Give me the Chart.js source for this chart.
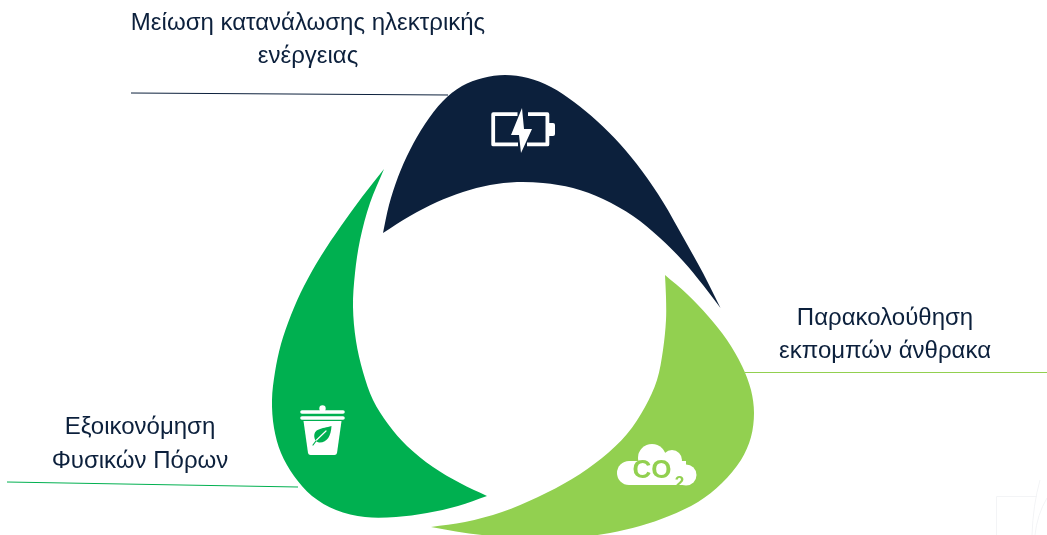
<!DOCTYPE html>
<html lang="el">
<head>
<meta charset="utf-8">
<style>html,body{margin:0;padding:0;background:#fff;overflow:hidden}canvas{display:block}</style>
<script src="https://cdn.jsdelivr.net/npm/chart.js@4/dist/chart.umd.min.js"></script>
</head>
<body>
<canvas id="c" width="1047" height="535"></canvas>
<script>
const navyX = [383,383,389,398,410,425,443,462,483,505,528,551,574,597,620,642,663,683,703,720.5,720.5,703,683,660,633,603,573,543,517,490,463,437,410,383,383];
const navyY = [233,233,205,177,150,124,101,86,78,75,78,87,102,121,144,171,202,237,273,308,308,285,261,238,216,199,188,183,182,185,192,202,216,233,233];
const greenX = [384,384,362,341,321,304,291,281,275,272,274,281,294,312,336,365,396,427,458,487,487,460,433,407,388,373,363,356,353,355,360,370,384,384];
const greenY = [169,169,197,226,256,286,315,344,372,400,428,453,476,496,510,517,517,513,506,496,496,483,467,446,424,400,372,341,307,273,240,203,169,169];
const limeX = [665,665,687,708,727,742,751,754,751,741,722,698,669,640,610,580,540,482,456,431,431,465,502,538,572,602,627,645,657,663,666,666,665,665];
const limeY = [275,275,294,316,340,366,390,413,437,460,483,502,516,526,533,537,539,535,531.5,527,527,522,512,497,479,458,434,407,380,350,320,297,275,275];
const leaderNavyX = [131,448];
const leaderNavyY = [93,95];
const leaderGreenX = [7,298];
const leaderGreenY = [482,487];
const leaderLimeX = [745,1047];
const leaderLimeY = [372.5,372.5];
const labelTop = ["Μείωση κατανάλωσης ηλεκτρικής","ενέργειας"];
const labelRight = ["Παρακολούθηση","εκπομπών άνθρακα"];
const labelLeft = ["Εξοικονόμηση","Φυσικών Πόρων"];

const NAVY = "#0c203c", GREEN = "#00b050", LIME = "#92d050";
const pts = (xs, ys) => xs.map((x, i) => ({x, y: ys[i]}));
const shape = (xs, ys, c) => ({data: pts(xs, ys), showLine: true, fill: "shape", backgroundColor: c, borderColor: c, borderWidth: 0, pointRadius: 0, tension: 0.33});
const leader = (xs, ys, c) => ({data: pts(xs, ys), showLine: true, fill: false, borderColor: c, borderWidth: 1, pointRadius: 0, tension: 0});

const decor = {
  id: "decor",
  afterDatasetsDraw(chart) {
    const ctx = chart.ctx, sx = chart.scales.x, sy = chart.scales.y;
    const at = (x, y) => [sx.getPixelForValue(x), sy.getPixelForValue(y)];
    ctx.save();
    // text labels
    ctx.fillStyle = NAVY; ctx.textAlign = "center"; ctx.textBaseline = "alphabetic";
    ctx.font = '24px "Liberation Sans", Arial, sans-serif';
    const put = (lines, x, y0, dy) => lines.forEach((t, i) => ctx.fillText(t, ...at(x, y0 + i * dy)));
    put(labelTop, 308, 30, 33);
    put(labelRight, 885, 325, 33);
    put(labelLeft, 140, 434, 34);

    // battery icon
    ctx.strokeStyle = "#fff"; ctx.fillStyle = "#fff"; ctx.lineWidth = 3.8; ctx.lineJoin = "round"; ctx.lineCap = "butt";
    ctx.beginPath();
    ctx.moveTo(517.5,114.2); ctx.lineTo(493.2,114.2); ctx.lineTo(493.2,144.4); ctx.lineTo(518,144.4);
    ctx.moveTo(528,114.2); ctx.lineTo(547.4,114.2); ctx.lineTo(547.4,144.4); ctx.lineTo(527,144.4);
    ctx.stroke();
    ctx.beginPath();
    ctx.moveTo(549,123); ctx.lineTo(553,123); ctx.quadraticCurveTo(555,123,555,125); ctx.lineTo(555,134); ctx.quadraticCurveTo(555,136,553,136); ctx.lineTo(549,136); ctx.closePath();
    ctx.fill();
    ctx.beginPath();
    ctx.moveTo(522,108); ctx.lineTo(511,135); ctx.lineTo(519,135); ctx.lineTo(521,153); ctx.lineTo(532,129); ctx.lineTo(524,129); ctx.closePath();
    ctx.fill();

    // bin icon
    ctx.lineCap = "round"; ctx.lineWidth = 3.6;
    ctx.beginPath(); ctx.moveTo(302,412); ctx.lineTo(343,412); ctx.moveTo(302,418); ctx.lineTo(343,418); ctx.stroke();
    ctx.beginPath(); ctx.arc(322.5,408.5,3.2,0,Math.PI*2); ctx.fill();
    ctx.beginPath();
    ctx.moveTo(303.5,421); ctx.lineTo(341.5,421); ctx.lineTo(337,453); ctx.quadraticCurveTo(336.5,455,334.5,455); ctx.lineTo(310.5,455); ctx.quadraticCurveTo(308.5,455,308,453); ctx.closePath();
    ctx.fill();
    ctx.fillStyle = GREEN;
    ctx.beginPath();
    ctx.moveTo(331.5,426); ctx.bezierCurveTo(322,429,313,428,314.5,438); ctx.bezierCurveTo(315,441,317,442,319,442.5); ctx.bezierCurveTo(327,443,331,436,331.5,426); ctx.closePath();
    ctx.fill();
    ctx.strokeStyle = "#fff"; ctx.lineWidth = 1.2; ctx.beginPath(); ctx.moveTo(315,441.5); ctx.lineTo(326,431); ctx.stroke();
    ctx.strokeStyle = GREEN; ctx.lineWidth = 1.2; ctx.beginPath(); ctx.moveTo(313,445); ctx.lineTo(316,441); ctx.stroke();

    // cloud icon
    ctx.fillStyle = "#fff";
    [[629,473,12],[652,458,14],[672,460,10],[686,475,10.5]].forEach(([x,y,r]) => { ctx.beginPath(); ctx.arc(x,y,r,0,Math.PI*2); ctx.fill(); });
    ctx.fillRect(629,461,57,24);
    ctx.fillStyle = LIME;
    ctx.font = 'bold 26px "Liberation Sans", Arial, sans-serif';
    ctx.fillText("CO", ...at(652,478));
    ctx.font = 'bold 17px "Liberation Sans", Arial, sans-serif';
    ctx.fillText("2", ...at(679.5,488));

    // faint watermark
    ctx.strokeStyle = "#f3f4f6"; ctx.lineWidth = 1; ctx.lineCap = "butt";
    ctx.beginPath();
    ctx.moveTo(996.5,535); ctx.lineTo(996.5,496.5); ctx.lineTo(1037,496.5);
    ctx.moveTo(1040,480); ctx.quadraticCurveTo(1033,505,1032,535);
    ctx.moveTo(1047,498); ctx.quadraticCurveTo(1037,515,1035,535);
    ctx.stroke();
    ctx.restore();
  }
};

new Chart(document.getElementById("c"), {
  type: "scatter",
  data: {datasets: [
    leader(leaderNavyX, leaderNavyY, NAVY),
    leader(leaderGreenX, leaderGreenY, GREEN),
    leader(leaderLimeX, leaderLimeY, LIME),
    shape(navyX, navyY, NAVY),
    shape(greenX, greenY, GREEN),
    shape(limeX, limeY, LIME)
  ]},
  options: {
    responsive: false, animation: false, events: [],
    layout: {padding: 0},
    plugins: {legend: {display: false}, tooltip: {enabled: false}, title: {display: false}},
    scales: {
      x: {type: "linear", display: false, min: 0, max: 1047},
      y: {type: "linear", display: false, min: 0, max: 535, reverse: true}
    }
  },
  plugins: [decor]
});
</script>
</body>
</html>
